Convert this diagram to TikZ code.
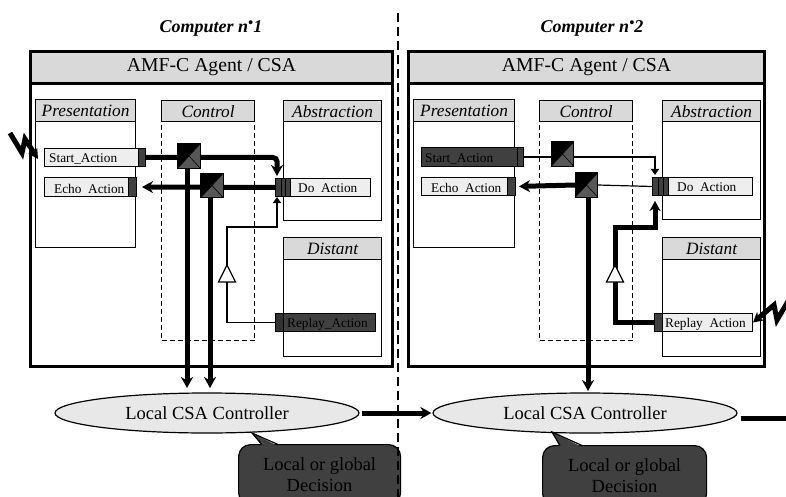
\documentclass[tikz,border=0pt]{standalone}
\usepackage{fontspec}
\setmainfont{Liberation Serif}
\usetikzlibrary{arrows.meta,shapes.geometric,calc}
\definecolor{hdr}{HTML}{D9D9D9}
\definecolor{barc}{HTML}{EEEEEE}
\definecolor{dk}{HTML}{404040}
\definecolor{xg}{HTML}{575757}
\definecolor{ellc}{HTML}{E8E8E8}
\newcommand\xmk[1]{%
  \fill[xg] (#1.north east) -- (#1.south east) -- (#1.south west) -- cycle;
  \draw[line width=0.6pt, black] (#1.north west) -- (#1.south east) (#1.north east) -- (#1.south west);
  \draw[line width=1pt] (#1.north west) rectangle (#1.south east);}
\begin{document}
\begin{tikzpicture}[x=1pt,y=-1pt,
  frame/.style={draw, line width=3pt, fill=white, inner sep=0, anchor=north west},
  agent/.style={frame, fill=hdr, font=\fontsize{19.7}{22}\selectfont},
  box/.style={draw, line width=1.2pt, fill=white, inner sep=0, anchor=north west},
  hbox/.style={box, fill=hdr, font=\fontsize{17.3}{19}\selectfont\itshape},
  cbox/.style={box, dashed, dash pattern=on 5pt off 3pt},
  lbar/.style={draw, line width=1pt, fill=barc, inner sep=0, anchor=north west},
  dbar/.style={draw, line width=1pt, fill=dk, inner sep=0, anchor=north west},
  btxt/.style={anchor=west, inner sep=0, font=\fontsize{13.3}{14}\selectfont},
  xsq/.style={draw, fill=black, minimum width=22pt, minimum height=24pt, inner sep=0},
  title/.style={font=\fontsize{18}{20}\selectfont\bfseries\itshape},
  ctrl/.style={ellipse, draw, line width=1.2pt, fill=ellc, minimum width=304pt, minimum height=40pt, inner sep=0, font=\fontsize{18.5}{22}\selectfont},
  callout/.style={draw, line width=1.2pt, fill=dk, rounded corners=12pt, inner sep=0, anchor=north west, minimum height=60pt, align=center, font=\fontsize{18.5}{21}\selectfont},
  thickl/.style={line width=5pt},
  thicka/.style={line width=5pt, -{Stealth[length=11pt,width=12pt]}},
  thina/.style={line width=1.2pt, -{Triangle[length=6pt,width=8pt]}},
  bolt/.style={line width=5pt, line join=miter, miter limit=4, -{Stealth[length=10pt,width=11pt]}},
  opentri/.style={draw, line width=1.2pt, fill=white}
]
\clip (0,0) rectangle (786,497);
\fill[white] (0,0) rectangle (786,497);

% titles
\node[title, anchor=base] (t1) at (211,33) {Computer n\raisebox{0.3em}{\scalebox{0.8}{•}}1};
\node[title, anchor=base] (t2) at (592,33) {Computer n\raisebox{0.3em}{\scalebox{0.8}{•}}2};

% ===== left computer =====
\node[frame, minimum width=362pt, minimum height=315pt] (frL) at (29,50) {};
\node[agent, minimum width=362pt, minimum height=32pt] (agL) at (29,50) {AMF-C Agent / CSA};
\node[box, minimum width=100pt, minimum height=148pt] (presL) at (35,99) {};
\node[hbox, minimum width=100pt, minimum height=22pt] (presLh) at (35,99) {Presentation};
\node[cbox, minimum width=93pt, minimum height=219pt] (ctrlL) at (161,121) {};
\node[hbox, minimum width=93pt, minimum height=21pt] (ctrlLh) at (161,100) {Control};
\node[box, minimum width=98pt, minimum height=120pt] (absL) at (283,100) {};
\node[hbox, minimum width=98pt, minimum height=21pt] (absLh) at (283,100) {Abstraction};
\node[box, minimum width=98pt, minimum height=119pt] (distL) at (283,237) {};
\node[hbox, minimum width=98pt, minimum height=22pt] (distLh) at (283,237) {Distant};

\node[lbar, minimum width=94pt, minimum height=18pt] (startL) at (44,148) {};
\node[dbar, minimum width=7pt, minimum height=18pt] (startLt) at (138,148) {};
\node[btxt] (startLx) at ($(startL.west)+(5,1)$) {Start\_Action};
\node[lbar, minimum width=84pt, minimum height=19pt] (echoL) at (44,177) {};
\node[dbar, minimum width=8pt, minimum height=19pt] (echoLt) at (128,177) {};
\node[btxt] (echoLx) at ($(echoL.west)+(10,1.5)$) {Echo\hspace{0.5em}Action};
\node[dbar, minimum width=15pt, minimum height=18pt] (doLt) at (275,178) {};
\draw[line width=0.8pt] (281,178) -- (281,196) (285,178) -- (285,196);
\node[lbar, minimum width=80pt, minimum height=18pt] (doL) at (290,178) {};
\node[btxt] (doLx) at ($(doL.west)+(8,1)$) {Do\hspace{0.5em}Action};
\node[dbar, minimum width=100pt, minimum height=18pt] (replayL) at (275,313) {};
\node[dbar, fill=black!80, minimum width=8pt, minimum height=18pt] (replayLt) at (275,313) {};
\node[btxt, text=black] (replayLx) at ($(replayL.west)+(12,1.5)$) {Replay\_Action};

% left connectors
\coordinate (aL1) at (277,176);
\draw[thicka, rounded corners=4pt] (startLt.east) -| (aL1);
\draw[thicka, shorten >=5pt] (doLt.west) -- (echoLt.east);
\node[xsq] (sqL1) at (189,156) {};
\node[xsq] (sqL2) at (212,185.5) {};
\xmk{sqL1}\xmk{sqL2}
\node[ctrl] (ellL) at (207,413) {Local CSA Controller};
\coordinate (vL1) at (187,388);
\coordinate (vL2) at (210,388);
\draw[thicka] (sqL1.south -| vL1) -- (vL1);
\draw[thicka] (sqL2.south -| vL2) -- (vL2);
\coordinate (bL1) at (227,227);
\coordinate (aL2) at (277,197);
\draw[thina] (replayL.west) -| (bL1) -| (aL2);
\draw[opentri] (218.5,282) -- (235.5,282) -- (227,265) -- cycle;
\coordinate (boltL) at (10,133);
\coordinate (boltLe) at (38,159);
\draw[bolt] (boltL) -- (22,153) -- (25,139) -- (boltLe);

% ===== right computer =====
\node[frame, minimum width=356pt, minimum height=315pt] (frR) at (407,50) {};
\node[agent, minimum width=356pt, minimum height=32pt] (agR) at (407,50) {AMF-C Agent / CSA};
\node[box, minimum width=101pt, minimum height=148pt] (presR) at (413,99) {};
\node[hbox, minimum width=101pt, minimum height=22pt] (presRh) at (413,99) {Presentation};
\node[cbox, minimum width=93pt, minimum height=219pt] (ctrlR) at (539,121) {};
\node[hbox, minimum width=93pt, minimum height=21pt] (ctrlRh) at (539,100) {Control};
\node[box, minimum width=98pt, minimum height=119pt] (absR) at (662,100) {};
\node[hbox, minimum width=98pt, minimum height=21pt] (absRh) at (662,100) {Abstraction};
\node[box, minimum width=98pt, minimum height=119pt] (distR) at (662,237) {};
\node[hbox, minimum width=98pt, minimum height=22pt] (distRh) at (662,237) {Distant};

\node[dbar, minimum width=102pt, minimum height=19pt] (startR) at (421,147) {};
\node[dbar, fill=black!75, minimum width=6pt, minimum height=19pt] (startRt) at (517,147) {};
\node[btxt] (startRx) at ($(startR.west)+(4,1.5)$) {Start\_Action};
\node[lbar, minimum width=86pt, minimum height=18pt] (echoR) at (421,177) {};
\node[dbar, minimum width=8pt, minimum height=18pt] (echoRt) at (507,177) {};
\node[btxt] (echoRx) at ($(echoR.west)+(10,1)$) {Echo\hspace{0.5em}Action};
\node[dbar, minimum width=16pt, minimum height=18pt] (doRt) at (652,177) {};
\draw[line width=0.8pt] (658,177) -- (658,195) (663,177) -- (663,195);
\node[lbar, minimum width=84pt, minimum height=18pt] (doR) at (668,177) {};
\node[btxt] (doRx) at ($(doR.west)+(9,1)$) {Do\hspace{0.5em}Action};
\node[dbar, minimum width=8pt, minimum height=18pt] (replayRt) at (654,313) {};
\node[lbar, minimum width=90pt, minimum height=18pt] (replayR) at (662,313) {};
\node[btxt] (replayRx) at ($(replayR.west)+(3,1.5)$) {Replay\hspace{0.5em}Action};

% right connectors
\coordinate (aR1) at (655,175);
\draw[thina] (startRt.east) -| (aR1);
\node[xsq] (sqR2) at (586.5,185) {};
\draw[line width=1.2pt] (doRt.west) -- (sqR2.east);
\draw[thicka, shorten >=3pt] (sqR2.west) -- (echoRt.east);
\node[xsq] (sqR1) at (562.5,154) {};
\xmk{sqR1}\xmk{sqR2}
\node[ctrl] (ellR) at (585,413) {Local CSA Controller};
\coordinate (vR) at (588,391);
\draw[thicka] (sqR2.south -| vR) -- (vR);
\coordinate (bR1) at (615,227);
\coordinate (aR2) at (655,201);
\draw[thicka, -{Stealth[length=10pt,width=11pt]}, line join=miter] (replayRt.west) -| (bR1) -| (aR2);
\draw[opentri] (606.5,282) -- (623.5,282) -- (615,265) -- cycle;
\coordinate (boltR) at (790,298);
\draw[bolt] (boltR) -- (777,320) -- (774,305) -- (replayR.east);

% controllers
\draw[thicka, shorten <=2pt, shorten >=1pt] (ellL.east) -- (ellR.west);
\coordinate (outR) at (790,418);
\draw[thickl] ($(ellR.east)+(3,5)$) -- (outR);

% callouts
\node[callout, minimum width=162pt] (decL) at (238,444) {Local or global\\Decision};
\fill[dk] (252,433) -- (262,446) -- (278,446) -- cycle;
\draw[line width=1.2pt] (262,444.5) -- (252,433) -- (278,444.5);
\node[callout, minimum width=164pt] (decR) at (542,445) {Local or global\\Decision};
\fill[dk] (552,432) -- (560,447) -- (582,447) -- cycle;
\draw[line width=1.2pt] (560,445.5) -- (552,432) -- (582,445.5);

% separator
\coordinate (sepT) at (398,13);
\coordinate (sepB) at (398,497);
\draw[line width=2.5pt, dash pattern=on 9pt off 5pt] (sepT) -- (sepB);
\end{tikzpicture}
\end{document}
